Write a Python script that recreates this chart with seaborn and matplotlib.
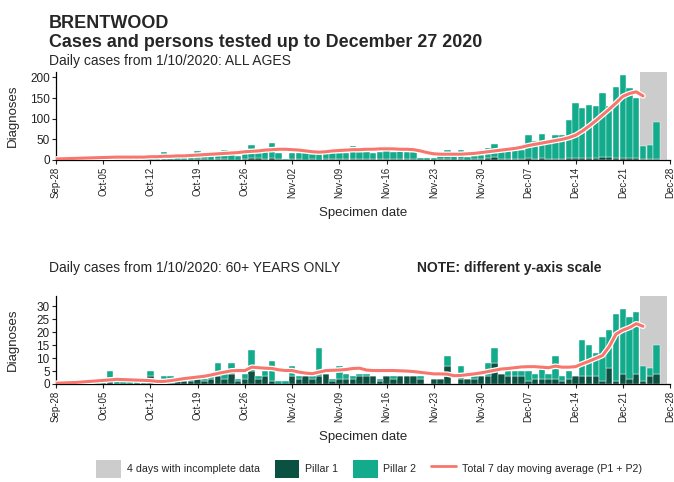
import numpy as np
import pandas as pd
import matplotlib
matplotlib.use("Agg")
import matplotlib.pyplot as plt
import matplotlib.dates as mdates
import matplotlib.patheffects as pe
from matplotlib.patches import Patch
from matplotlib.lines import Line2D
import seaborn as sns

# ---------------- data (Sep 28 .. Dec 27 2020) ----------------
start_date = "2020-09-28"
end_date = "2020-12-27"
incomplete_days = ["2020-12-24", "2020-12-25", "2020-12-26", "2020-12-27"]

all_total = [2, 3, 2, 4, 5, 4, 3,
             6, 7, 5, 8, 6, 7, 5,
             8, 7, 20, 6, 9, 8, 7,
             22, 10, 12, 11, 25, 14, 10,
             14, 36, 18, 20, 42, 18, 3,
             18, 17, 16, 15, 14, 16, 17,
             17, 18, 33, 19, 20, 18, 20,
             33, 20, 21, 19, 20, 6, 4,
             5, 9, 25, 9, 23, 7, 9,
             11, 30, 39, 21, 23, 23, 25,
             60, 45, 64, 45, 60, 60, 96,
             138, 125, 133, 130, 163, 130, 177,
             206, 175, 150, 33, 37, 92, 1]
all_p1 = [0, 0, 0, 1, 0, 1, 0,
          1, 0, 1, 1, 0, 1, 0,
          1, 1, 2, 1, 1, 1, 0,
          2, 2, 1, 2, 2, 1, 1,
          3, 5, 4, 3, 4, 2, 0,
          2, 2, 1, 2, 1, 2, 2,
          2, 2, 3, 2, 2, 2, 2,
          3, 2, 3, 2, 2, 1, 0,
          1, 2, 3, 1, 2, 1, 2,
          2, 4, 8, 3, 3, 3, 3,
          4, 3, 4, 3, 3, 3, 4,
          5, 4, 5, 6, 7, 8, 6,
          6, 4, 4, 2, 2, 3, 0]
all_avg = [2.5, 3, 3.5, 4, 4.5, 5, 5.5,
           6, 6.5, 7, 7, 7, 7, 7,
           8, 8, 9, 9, 10, 10, 11,
           12, 13, 14, 15, 16, 17, 18,
           20, 21, 22, 24, 25, 26, 26,
           25, 24, 22, 20, 19, 20, 22,
           23, 24, 25, 25, 26, 26, 27,
           27, 27, 26, 26, 25, 22, 18,
           15, 14, 14, 14, 14, 15, 16,
           18, 20, 22, 24, 26, 28, 31,
           35, 38, 41, 44, 47, 50, 54,
           60, 70, 82, 95, 109, 123, 138,
           154, 161, 165, 155]

old_total = [0, 0, 1, 0, 1, 0, 1,
             1, 5, 1, 2, 1, 1, 1,
             5, 1, 3, 3, 1, 2, 2,
             2, 2, 4, 8, 5, 8, 2,
             4, 13, 3, 5, 9, 1, 1,
             7, 3, 3, 3, 14, 4, 2,
             7, 4, 3, 4, 4, 3, 2,
             3, 3, 3, 3, 3, 3, 0,
             2, 2, 11, 0, 7, 2, 3,
             3, 8, 14, 4, 5, 5, 5,
             5, 4, 7, 4, 11, 3, 5,
             3, 17, 15, 12, 18, 21, 27,
             29, 26, 28, 7, 6, 15, 0]
old_p1 = [0, 0, 0, 0, 0, 0, 0,
          0, 1, 0, 0, 0, 0, 0,
          3, 0, 1, 0, 1, 1, 1,
          2, 1, 2, 3, 2, 4, 1,
          2, 5, 2, 3, 1, 0, 0,
          3, 2, 3, 2, 3, 4, 1,
          2, 2, 2, 3, 3, 3, 1,
          3, 2, 3, 3, 3, 2, 0,
          2, 2, 7, 0, 2, 2, 2,
          3, 3, 8, 4, 3, 3, 3,
          1, 2, 2, 2, 2, 1, 2,
          3, 3, 3, 3, 1, 6, 1,
          4, 2, 4, 1, 3, 4, 0]
old_avg = [0.3, 0.4, 0.5, 0.6, 0.8, 1.0, 1.2,
           1.4, 1.6, 1.8, 1.7, 1.6, 1.5, 1.4,
           1.3, 1.0, 1.0, 1.3, 1.7, 2.1, 2.4,
           2.7, 3.0, 3.5, 4.1, 4.6, 5.1, 5.2,
           5.2, 6.5, 6.3, 6.1, 6.0, 5.5, 5.2,
           5.2, 4.6, 4.2, 4.0, 4.6, 5.2, 5.3,
           5.4, 5.6, 6.0, 6.1, 5.4, 5.2, 5.2,
           5.2, 5.2, 5.1, 5.0, 4.8, 4.5, 4.2,
           3.9, 3.9, 3.8, 3.2, 3.3, 3.6, 3.9,
           4.3, 4.8, 5.3, 5.8, 6.0, 6.3, 6.6,
           6.7, 6.7, 6.5, 6.3, 6.9, 6.5, 6.5,
           6.7, 7.8, 8.8, 9.9, 11.0, 14.5, 19.3,
           20.8, 21.8, 23.3, 22.3]

week_ticks = pd.date_range("2020-09-28", "2020-12-28", freq="7D")

# ---------------- style ----------------
sns.set_theme(style="ticks")
plt.rcParams["font.family"] = ["Liberation Sans", "DejaVu Sans"]

C_GREY = "#cccccc"
C_P1 = "#0b5142"
C_P2 = "#12ab8c"
C_LINE = "#f8766d"

dates = pd.date_range(start_date, end_date, freq="D")

fig = plt.figure(figsize=(6.74, 4.82), dpi=100)
W, H = 674, 482


def axes_px(left, top, right, bottom):
    return fig.add_axes([left / W, 1 - bottom / H, (right - left) / W, (bottom - top) / H])


def panel(ax, total, p1, avg, ymax, yticks):
    total = np.array(total, dtype=float)
    p1 = np.array(p1, dtype=float)
    p2 = total - p1
    inc = pd.to_datetime(incomplete_days)
    ax.axvspan(inc[0] - pd.Timedelta(hours=12), inc[-1] + pd.Timedelta(hours=12),
               color=C_GREY, lw=0, zorder=0)
    ax.bar(dates, p1, width=0.95, color=C_P1, edgecolor="white", linewidth=0.3, zorder=2)
    ax.bar(dates, p2, bottom=p1, width=0.95, color=C_P2, edgecolor="white", linewidth=0.3, zorder=2)
    df = pd.DataFrame({"date": dates[:len(avg)], "avg": avg})
    sns.lineplot(data=df, x="date", y="avg", ax=ax, color=C_LINE, lw=2.2, zorder=4,
                 path_effects=[pe.Stroke(linewidth=4.0, foreground="white"), pe.Normal()])
    ax.set_xlim(pd.Timestamp("2020-09-28"), pd.Timestamp("2020-12-28"))
    ax.set_ylim(0, ymax)
    ax.set_yticks(yticks)
    ax.set_xticks(week_ticks)
    ax.xaxis.set_major_formatter(mdates.DateFormatter("%b-%d"))
    ax.tick_params(axis="x", labelrotation=90, labelsize=7, length=3, width=0.8, pad=2, colors="#222222")
    ax.tick_params(axis="y", labelsize=8.5, length=3, width=0.8, pad=1.5, colors="#222222")
    for s in ["top", "right"]:
        ax.spines[s].set_visible(False)
    for s in ["left", "bottom"]:
        ax.spines[s].set_color("black")
        ax.spines[s].set_linewidth(0.9)
    ax.set_ylabel("Diagnoses", fontsize=9.5)
    ax.yaxis.set_label_coords(-0.06, 0.5)
    ax.set_xlabel("Specimen date", fontsize=9.5)
    ax.xaxis.set_label_coords(0.5, -0.6)
    ax.xaxis.label.set_va("center")


ax1 = axes_px(56, 72, 670, 160)
panel(ax1, all_total, all_p1, all_avg, 213, [0, 50, 100, 150, 200])

ax2 = axes_px(56, 296, 670, 384)
panel(ax2, old_total, old_p1, old_avg, 34, [0, 5, 10, 15, 20, 25, 30])

fig.text(49 / W, 1 - 28 / H, "BRENTWOOD", fontsize=13, fontweight="bold", va="baseline")
fig.text(49 / W, 1 - 47 / H, "Cases and persons tested up to December 27 2020",
         fontsize=12.9, fontweight="bold", va="baseline")
fig.text(49 / W, 1 - 65 / H, "Daily cases from 1/10/2020: ALL AGES", fontsize=10, va="baseline")
fig.text(49 / W, 1 - 272 / H, "Daily cases from 1/10/2020: 60+ YEARS ONLY", fontsize=10, va="baseline")
fig.text(417 / W, 1 - 272 / H, "NOTE: different y-axis scale", fontsize=10,
         fontweight="bold", va="baseline")

handles = [Patch(facecolor=C_GREY, edgecolor="none"),
           Patch(facecolor=C_P1, edgecolor="none"),
           Patch(facecolor=C_P2, edgecolor="none"),
           Line2D([0], [0], color=C_LINE, lw=2)]
labels = ["4 days with incomplete data", "Pillar 1", "Pillar 2",
          "Total 7 day moving average (P1 + P2)"]
fig.legend(handles, labels, loc="center", bbox_to_anchor=(369 / W, 1 - 469 / H), ncol=4,
           frameon=False, fontsize=7.7, handlelength=2.3, handleheight=2.2,
           handletextpad=0.55, columnspacing=1.4, borderaxespad=0)

fig.savefig("out.png", dpi=100)
